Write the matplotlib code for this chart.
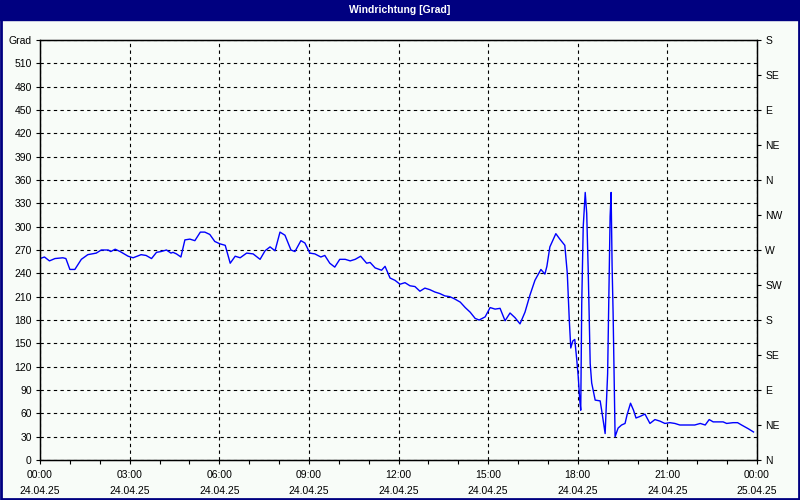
import numpy as np
import matplotlib.pyplot as plt
from matplotlib.patches import Rectangle

plt.rcParams['font.family'] = ['Liberation Sans', 'DejaVu Sans']

# Minutes after 24.04.25 00:00 and wind direction in degrees
minutes = [0, 9, 19, 30, 46, 52, 60, 70, 83, 96, 113, 123, 137, 142, 151, 161,
           177, 187, 203, 213, 224, 234, 243, 254, 263, 267, 274, 283, 291, 301,
           311, 322, 331, 341, 351, 361, 372, 382, 392, 402, 415, 428, 442, 452,
           462, 472, 482, 492, 504, 512, 524, 532, 542, 552, 564, 572, 582, 592,
           602, 613, 623, 633, 644, 656, 663, 673, 686, 693, 703, 713, 723, 733,
           743, 753, 763, 773, 783, 793, 803, 813, 823, 833, 844, 854, 864, 874,
           882, 894, 904, 914, 924, 934, 944, 954, 964, 974, 984, 994, 1006, 1014,
           1018, 1024, 1036, 1044, 1054, 1059, 1063, 1066, 1070, 1074, 1078, 1081,
           1084, 1086, 1088, 1091, 1095, 1098, 1101, 1105, 1108, 1115, 1125, 1128,
           1135, 1137, 1140, 1142, 1145, 1147, 1149, 1151, 1155, 1161, 1168, 1175,
           1179, 1186, 1192, 1197, 1205, 1215, 1225, 1235, 1245, 1255, 1265, 1275,
           1285, 1315, 1326, 1336, 1344, 1352, 1372, 1379, 1392, 1401, 1409, 1423,
           1433]
direction = [259, 261, 256, 259, 260, 259, 245, 245, 258, 264, 266, 270, 270, 268,
             271, 268, 262, 260, 264, 263, 259, 267, 268, 270, 266, 267, 265, 261,
             283, 284, 282, 293, 293, 290, 281, 278, 276, 253, 262, 260, 266, 265,
             258, 269, 274, 269, 293, 289, 270, 268, 282, 279, 266, 265, 261, 263,
             253, 248, 258, 258, 256, 258, 262, 253, 254, 247, 244, 249, 234, 231,
             226, 228, 224, 223, 217, 221, 219, 216, 214, 211, 210, 207, 203, 196,
             190, 182, 180, 184, 196, 194, 195, 179, 189, 183, 175, 190, 212, 231,
             245, 239, 249, 274, 291, 284, 276, 240, 180, 144, 153, 155, 129, 107,
             77, 64, 201, 300, 344, 317, 244, 124, 99, 77, 76, 64, 34, 64, 111, 189,
             313, 344, 249, 189, 30, 41, 45, 47, 58, 73, 64, 54, 56, 59, 47, 52, 50,
             47, 48, 47, 45, 45, 47, 45, 52, 49, 49, 47, 48, 48, 45, 40, 36]

hour_ticks = [0, 3, 6, 9, 12, 15, 18, 21, 24]
hour_labels = ["00:00\n24.04.25", "03:00\n24.04.25", "06:00\n24.04.25",
               "09:00\n24.04.25", "12:00\n24.04.25", "15:00\n24.04.25",
               "18:00\n24.04.25", "21:00\n24.04.25", "00:00\n25.04.25"]
compass = ["N", "NE", "E", "SE", "S", "SW", "W", "NW", "N", "NE", "E", "SE", "S"]

bg = "#f8fcf8"
navy = "#000080"

fig = plt.figure(figsize=(8, 5), dpi=100, facecolor=bg)
ax = fig.add_axes([40 / 800, 40 / 500, 717 / 800, 420 / 500], facecolor=bg)

hours = np.array(minutes) / 60.0
ax.plot(hours, direction, color="#0000ff", lw=1)

ax.set_xlim(0, 24)
ax.set_ylim(0, 540)

yt = list(range(0, 541, 30))
ax.set_yticks(yt)
ax.set_yticklabels([str(v) for v in yt[:-1]] + ["Grad"])
ax.set_xticks(hour_ticks)
ax.set_xticklabels(hour_labels, linespacing=1.75)
ax.set_xticks(range(0, 25), minor=True)

ax.grid(True, which="major", color="black", linestyle=(0, (3, 3)), lw=0.8)
ax.tick_params(axis="both", which="both", direction="out", length=3,
               width=0.8, labelsize=7.5, colors="black")
ax.tick_params(axis="y", pad=3)
ax.tick_params(axis="x", pad=4)
for s in ax.spines.values():
    s.set_color("black")
    s.set_linewidth(1)

ax2 = ax.twinx()
ax2.set_ylim(0, 540)
ax2.set_yticks(range(0, 541, 45))
ax2.set_yticklabels(compass)
ax2.tick_params(axis="y", direction="out", length=3, width=0.8,
                labelsize=7.5, pad=3)

# title bar and window border
fig.patches.append(Rectangle((0, 1 - 20 / 500), 1, 20 / 500,
                             transform=fig.transFigure, color=navy, zorder=0))
fig.patches.append(Rectangle((0.001, 0.002), 0.998, 0.997, fill=False,
                             edgecolor=navy, lw=2, transform=fig.transFigure))
fig.text(0.5, 1 - 10 / 500, "Windrichtung [Grad]", color="white",
         fontsize=7.5, fontweight="bold", ha="center", va="center")

fig.savefig("out.png", dpi=100, facecolor=bg)
